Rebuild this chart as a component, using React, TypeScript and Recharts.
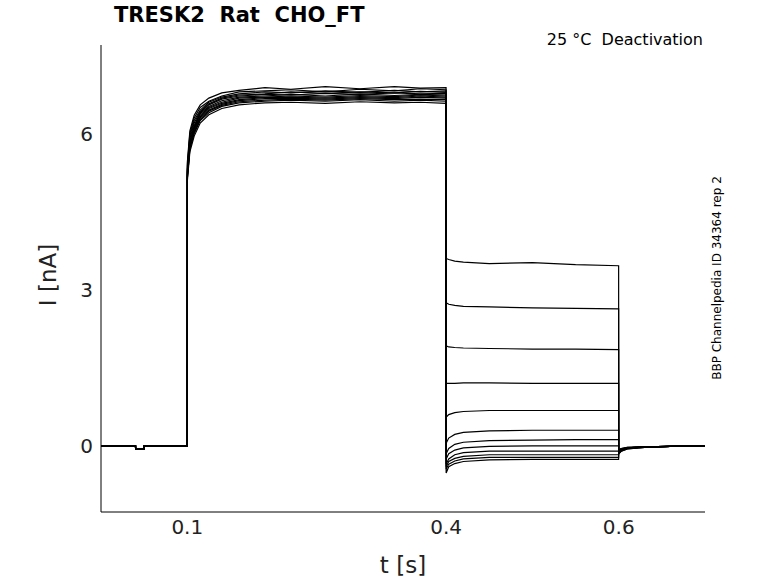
import { LineChart, Line, XAxis, YAxis } from "recharts";

const TIMES = [
  0, 0.04, 0.0401, 0.05, 0.0501, 0.1,
  0.1001, 0.103, 0.108, 0.115, 0.125, 0.14, 0.16, 0.19, 0.22, 0.26, 0.3, 0.34, 0.37, 0.3999,
  0.4, 0.403, 0.41, 0.42, 0.45, 0.5, 0.55, 0.5999,
  0.6, 0.603, 0.61, 0.63, 0.66, 0.7,
];

const BASE = [0, 0, -0.06, -0.06, 0, 0];

const ACT = [
  [5.45, 6.05, 6.35, 6.55, 6.68, 6.78, 6.83, 6.88, 6.85, 6.9, 6.86, 6.9, 6.87, 6.88],
  [5.4, 6.0, 6.3, 6.5, 6.62, 6.72, 6.8, 6.82, 6.84, 6.8, 6.85, 6.82, 6.86, 6.84],
  [5.35, 5.95, 6.25, 6.45, 6.6, 6.7, 6.76, 6.8, 6.78, 6.82, 6.79, 6.83, 6.8, 6.82],
  [5.3, 5.9, 6.2, 6.42, 6.57, 6.68, 6.74, 6.76, 6.8, 6.77, 6.8, 6.78, 6.81, 6.79],
  [5.3, 5.85, 6.15, 6.4, 6.55, 6.66, 6.72, 6.75, 6.74, 6.77, 6.75, 6.78, 6.76, 6.77],
  [5.25, 5.82, 6.12, 6.38, 6.52, 6.63, 6.7, 6.72, 6.75, 6.72, 6.76, 6.73, 6.75, 6.74],
  [5.25, 5.8, 6.1, 6.35, 6.5, 6.6, 6.68, 6.7, 6.72, 6.7, 6.73, 6.71, 6.74, 6.72],
  [5.2, 5.78, 6.08, 6.32, 6.48, 6.58, 6.65, 6.69, 6.7, 6.68, 6.71, 6.69, 6.72, 6.7],
  [5.2, 5.75, 6.05, 6.3, 6.45, 6.56, 6.63, 6.67, 6.68, 6.66, 6.69, 6.67, 6.7, 6.68],
  [5.15, 5.72, 6.02, 6.27, 6.43, 6.54, 6.61, 6.64, 6.66, 6.64, 6.67, 6.65, 6.66, 6.65],
  [5.15, 5.7, 6.0, 6.25, 6.4, 6.52, 6.59, 6.62, 6.64, 6.62, 6.65, 6.62, 6.64, 6.62],
  [5.1, 5.65, 5.95, 6.2, 6.36, 6.48, 6.55, 6.59, 6.6, 6.58, 6.61, 6.59, 6.6, 6.58],
];

const TAIL = [
  [3.6, 3.58, 3.55, 3.53, 3.5, 3.52, 3.48, 3.46],
  [2.75, 2.72, 2.7, 2.68, 2.67, 2.65, 2.64, 2.63],
  [1.92, 1.9, 1.89, 1.88, 1.87, 1.86, 1.86, 1.85],
  [1.2, 1.2, 1.2, 1.21, 1.21, 1.2, 1.2, 1.2],
  [0.55, 0.6, 0.64, 0.66, 0.68, 0.68, 0.68, 0.68],
  [0.05, 0.15, 0.22, 0.26, 0.29, 0.3, 0.3, 0.3],
  [-0.15, -0.05, 0.03, 0.07, 0.1, 0.11, 0.12, 0.12],
  [-0.25, -0.15, -0.08, -0.04, -0.01, 0.0, 0.0, 0.0],
  [-0.35, -0.25, -0.17, -0.13, -0.1, -0.1, -0.1, -0.1],
  [-0.4, -0.3, -0.24, -0.2, -0.17, -0.17, -0.17, -0.17],
  [-0.45, -0.35, -0.29, -0.25, -0.22, -0.22, -0.22, -0.22],
  [-0.52, -0.4, -0.34, -0.3, -0.27, -0.26, -0.26, -0.26],
];

const POST = [
  [-0.12, -0.08, -0.05, -0.02, -0.01, 0],
  [-0.1, -0.07, -0.04, -0.02, -0.01, 0],
  [-0.1, -0.07, -0.04, -0.02, -0.01, 0],
  [-0.08, -0.06, -0.04, -0.02, -0.01, 0],
  [-0.08, -0.06, -0.04, -0.02, -0.01, 0],
  [-0.08, -0.05, -0.03, -0.02, -0.01, 0],
  [-0.08, -0.05, -0.03, -0.02, -0.01, 0],
  [-0.1, -0.06, -0.04, -0.02, -0.01, 0],
  [-0.12, -0.08, -0.05, -0.02, -0.01, 0],
  [-0.14, -0.09, -0.05, -0.03, -0.01, 0],
  [-0.15, -0.1, -0.06, -0.03, -0.01, 0],
  [-0.16, -0.1, -0.06, -0.03, -0.01, 0],
];

const X_TICKS = [0.1, 0.4, 0.6];
const Y_TICKS = [0, 3, 6];

const traces = ACT.map((a, i) => [...BASE, ...a, ...TAIL[i], ...POST[i]]);
const data = TIMES.map((t, j) => {
  const row: Record<string, number> = { t };
  traces.forEach((tr, i) => (row["s" + i] = tr[j]));
  return row;
});

const font = "DejaVu Sans, sans-serif";

export default function App() {
  return (
    <div style={{ position: "absolute", left: 0, top: 0, width: 778, height: 583, fontFamily: font, background: "#fff" }}>
      <LineChart width={778} height={583} data={data} margin={{ top: 45, right: 73, left: 0, bottom: 0 }}>
        <XAxis
          dataKey="t"
          type="number"
          domain={[0, 0.7]}
          ticks={X_TICKS}
          tickFormatter={(v: number) => String(v)}
          height={71}
          stroke="#000"
          tickLine={false}
          tick={{ fill: "#222", fontSize: 20, fontFamily: font }}
          allowDataOverflow
        />
        <YAxis
          type="number"
          domain={[-1.27, 7.7]}
          ticks={Y_TICKS}
          width={101}
          stroke="#000"
          tickLine={false}
          tick={{ fill: "#222", fontSize: 20, fontFamily: font }}
          allowDataOverflow
        />
        {traces.map((_, i) => (
          <Line
            key={i}
            dataKey={"s" + i}
            type="linear"
            stroke="#000"
            strokeWidth={1.2}
            dot={false}
            isAnimationActive={false}
          />
        ))}
      </LineChart>
      <div style={{ position: "absolute", left: 114, top: 3, fontSize: 21, fontWeight: "bold" }}>
        TRESK2&nbsp;&nbsp;Rat&nbsp;&nbsp;CHO_FT
      </div>
      <div style={{ position: "absolute", right: 75, top: 30, fontSize: 16 }}>25 °C&nbsp;&nbsp;Deactivation</div>
      <div style={{ position: "absolute", left: 403, top: 552, fontSize: 23, transform: "translateX(-50%)", color: "#222" }}>
        t [s]
      </div>
      <div
        style={{ position: "absolute", left: 48, top: 275, fontSize: 23, color: "#222", whiteSpace: "nowrap",
          transform: "translate(-50%, -50%) rotate(-90deg)" }}
      >
        I [nA]
      </div>
      <div
        style={{ position: "absolute", left: 717, top: 278, fontSize: 12, whiteSpace: "nowrap",
          transform: "translate(-50%, -50%) rotate(-90deg)" }}
      >
        BBP Channelpedia ID 34364 rep 2
      </div>
    </div>
  );
}
